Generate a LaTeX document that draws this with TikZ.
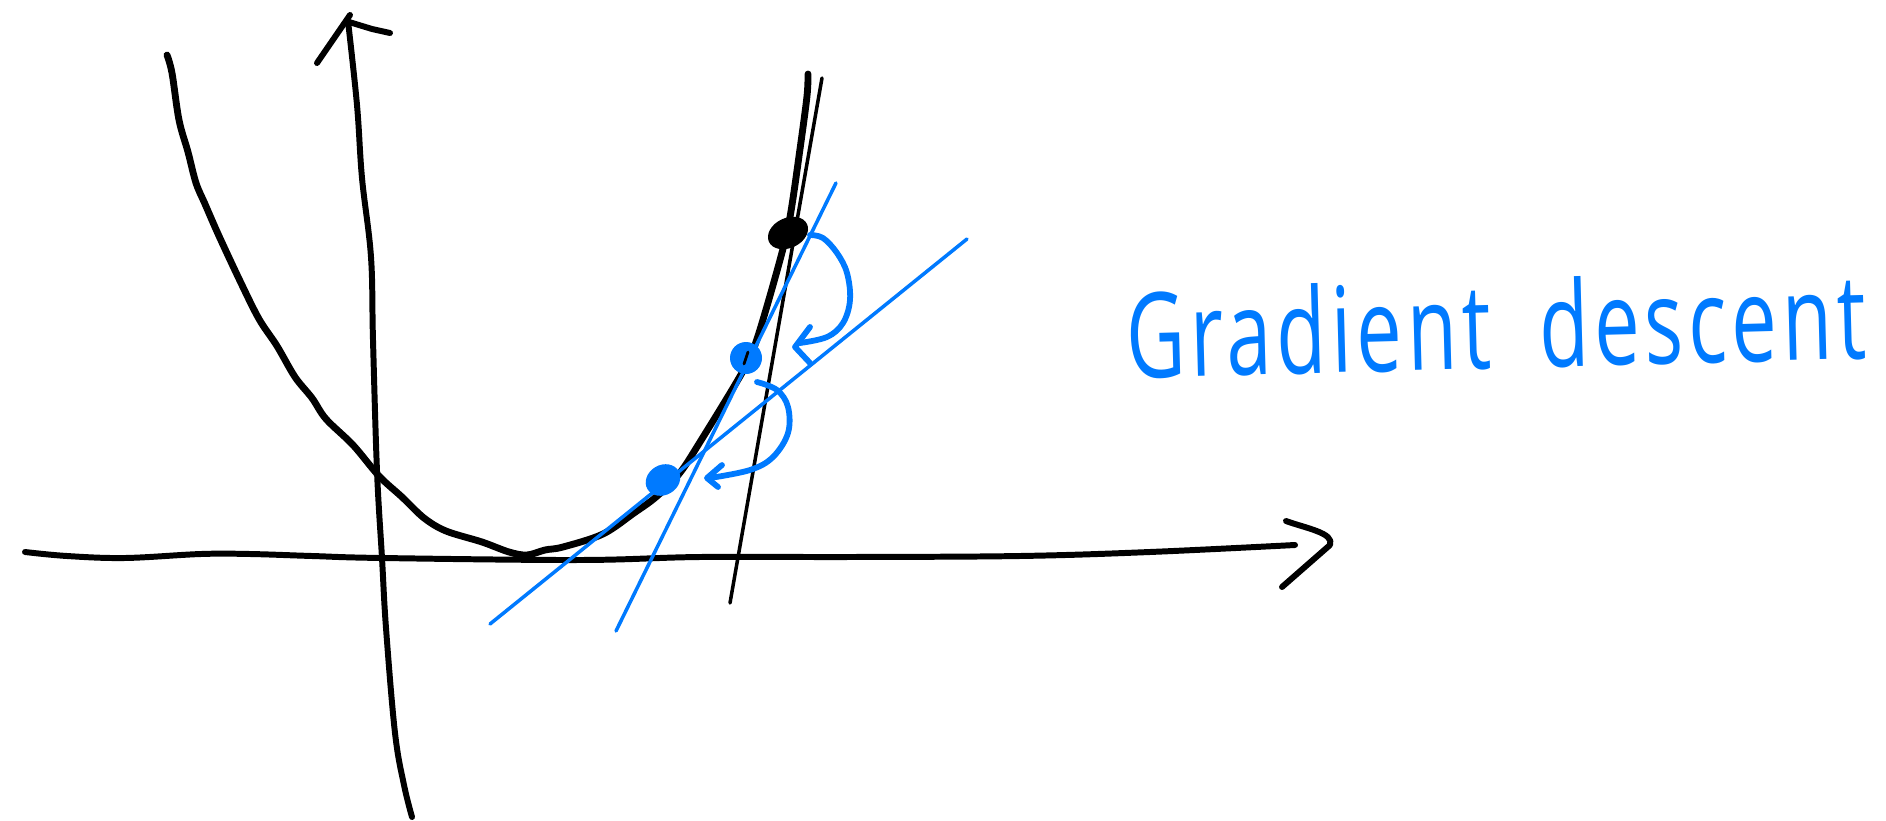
\documentclass[tikz,border=0pt]{standalone}
\usepackage{fontspec}
\usepackage{graphicx}
\newfontfamily\handfont[LetterSpace=6]{Open Sans}
\definecolor{sketchblue}{RGB}{0,122,255}
\tikzset{
  axisline/.style={black, line width=3.4pt, line cap=round, line join=round},
  curveline/.style={black, line width=3.9pt, line cap=round, line join=round},
  thinblack/.style={black, line width=2.0pt, line cap=round},
  tangentline/.style={sketchblue, line width=2.0pt, line cap=round},
  steparrow/.style={sketchblue, line width=3.3pt, line cap=round, line join=round},
  handtext/.style={sketchblue, inner sep=0pt}
}
\begin{document}
\begin{tikzpicture}[x=0.02cm,y=-0.02cm]
\useasboundingbox (0,0) rectangle (1886,821);
% x axis
\draw[axisline] plot[smooth, tension=0.6] coordinates {(25,552) (67,556) (125,558) (201,554) (250,554) (312,556) (382,558) (580,560) (700,557) (850,557) (1020,556) (1150,552) (1295,545)};
\draw[axisline] (1286,521) .. controls (1305,528) and (1335,533) .. (1330,545) -- (1282,587);
% y axis
\draw[axisline] plot[smooth, tension=0.6] coordinates {(348,21) (357,105) (362,178) (371,257) (373,340) (377,471) (382,558) (386,628) (395,733) (404,785) (412,817)};
\draw[axisline] (317,63) -- (350,15);
\draw[axisline] (349,22) -- (372,29) -- (390,33);
% parabola
\draw[curveline] plot[smooth, tension=0.55] coordinates {(167,55) (172,73) (179,120) (188,152) (196,183) (205,204) (219,236) (241,283) (259,319) (277,346) (295,377) (312,398) (326,419) (353,445) (379,476) (402,497) (424,518) (446,531) (482,542) (509,552) (527,555) (545,550) (563,547) (603,534) (634,513) (656,497) (679,474) (700,442) (743,371) (757,339) (780,260) (790,217) (800,149) (807,96) (808,74)};
% tangent endpoints
\coordinate (kt) at (822,78);
\coordinate (kb) at (730,603);
\coordinate (st) at (836,183);
\coordinate (sb) at (616,631);
\coordinate (ht) at (967,239);
\coordinate (hb) at (490,624);
% tangent lines
\draw[thinblack] (kt) -- (kb);
\draw[tangentline] (st) -- (sb);
\draw[tangentline] (ht) -- (hb);
% points
\fill[black, rotate around={25:(788,233)}] (788,233) ellipse (21 and 15);
\fill[sketchblue] (746,358) ellipse (16 and 16);
\draw[black, line width=1.6pt, line cap=round] (744,364) -- (748,352);
\fill[sketchblue, rotate around={30:(663,480)}] (663,480) ellipse (18 and 15);
% step arrows
\draw[steparrow] plot[smooth, tension=0.6] coordinates {(810,235) (823,238) (837,253) (847,273) (850,300) (843,323) (827,337) (800,343)};
\draw[steparrow] (810,327) -- (795,347) -- (810,363);
\draw[steparrow] plot[smooth, tension=0.6] coordinates {(757,382) (777,390) (788,407) (788,433) (773,457) (750,470) (710,478)};
\draw[steparrow] (722,465) -- (707,478) -- (718,487);
% label
\node[handtext, rotate=1.5] (label) at (1496,324) {\resizebox{14.8cm}{1.8cm}{\handfont Gradient\hspace{0.6em}descent}};
\end{tikzpicture}
\end{document}
